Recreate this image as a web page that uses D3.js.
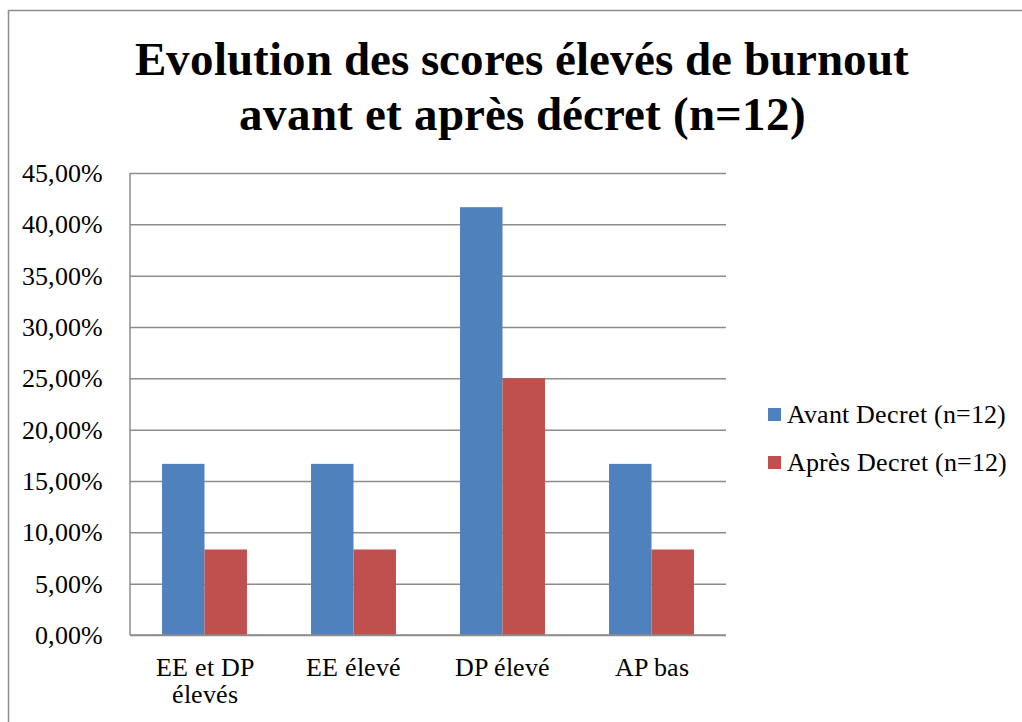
<!DOCTYPE html>
<html>
<head>
<meta charset="utf-8">
<script src="https://cdn.jsdelivr.net/npm/d3@7"></script>
<style>
  html, body { margin: 0; padding: 0; background: #fff; }
  svg { display: block; }
  @font-face { font-family: "ChartSerif"; font-weight: 400; src: local("Liberation Serif"), local("LiberationSerif"), local("Tinos"), local("Times New Roman"); }
  @font-face { font-family: "ChartSerif"; font-weight: 700; src: local("Liberation Serif Bold"), local("LiberationSerif-Bold"), local("Tinos Bold"), local("Times New Roman Bold"); }
</style>
</head>
<body>
<svg id="chart" width="1022" height="722"></svg>
<script>
const categories = [["EE et DP", "élevés"], ["EE élevé"], ["DP élevé"], ["AP bas"]];
const seriesNames = ["Avant Decret (n=12)", "Après Decret (n=12)"];
const avantValues = [16.67, 16.67, 41.67, 16.67];
const apresValues = [8.33, 8.33, 25.0, 8.33];
const yTicks = [0, 5, 10, 15, 20, 25, 30, 35, 40, 45];
const colors = ["#4F81BD", "#C0504D"];
const titleLines = ["Evolution des scores élevés de burnout", "avant et après décret (n=12)"];

const FONT = "'ChartSerif', 'Liberation Serif'";
const svg = d3.select("#chart");
const W = 1022, H = 722;
const plot = { left: 130, right: 726, top: 173, bottom: 635 };

function draw() {
  // outer border (extends beyond right/bottom as in reference)
  svg.append("rect")
    .attr("x", 8.5).attr("y", 10.5)
    .attr("width", W + 20).attr("height", H + 20)
    .attr("fill", "none").attr("stroke", "#8c8c8c").attr("stroke-width", 1.5);

  const x0 = d3.scaleBand().domain(d3.range(categories.length))
    .range([plot.left, plot.right]).paddingInner(0).paddingOuter(0);
  const groupW = x0.bandwidth() * 0.57;
  const x1 = d3.scaleBand().domain([0, 1]).range([0, groupW]).padding(0);
  const y = d3.scaleLinear().domain([0, 45]).range([plot.bottom, plot.top]);

  // gridlines
  const yAxis = d3.axisLeft(y).tickValues(yTicks).tickSize(-(plot.right - plot.left)).tickFormat("");
  const gy = svg.append("g").attr("transform", `translate(${plot.left},0)`).call(yAxis);
  gy.select(".domain").remove();
  gy.selectAll(".tick line").attr("stroke", "#8c8c8c").attr("stroke-width", 1.5);
  gy.selectAll(".tick text").remove();

  // bars
  const data = categories.map((c, i) => [avantValues[i], apresValues[i]]);
  const groups = svg.append("g").selectAll("g").data(data).join("g")
    .attr("transform", (d, i) => `translate(${x0(i) + (x0.bandwidth() - groupW) / 2},0)`);
  groups.selectAll("rect").data(d => d).join("rect")
    .attr("x", (d, j) => x1(j))
    .attr("width", x1.bandwidth())
    .attr("y", d => y(d))
    .attr("height", d => y(0) - y(d))
    .attr("fill", (d, j) => colors[j]);

  // axis lines
  svg.append("line")
    .attr("x1", plot.left).attr("x2", plot.left)
    .attr("y1", plot.top).attr("y2", plot.bottom)
    .attr("stroke", "#8c8c8c").attr("stroke-width", 1.5);
  svg.append("line")
    .attr("x1", plot.left).attr("x2", plot.right)
    .attr("y1", y(0)).attr("y2", y(0))
    .attr("stroke", "#8c8c8c").attr("stroke-width", 1.5);

  // title
  svg.selectAll("text.title").data(titleLines).join("text").attr("class", "title")
    .attr("x", 522).attr("y", (d, i) => 75 + i * 55)
    .attr("text-anchor", "middle")
    .style("font-family", FONT).style("font-weight", "bold").style("font-size", "47px")
    .text(d => d);

  // y tick labels
  svg.selectAll("text.ytick").data(yTicks).join("text").attr("class", "ytick")
    .attr("x", plot.left - 27).attr("y", d => y(d) + 9)
    .attr("text-anchor", "end")
    .style("font-family", FONT).style("font-size", "25.5px")
    .text(d => d.toFixed(2).replace(".", ",") + "%");

  // x labels
  const xItems = [];
  categories.forEach((lines, i) => lines.forEach((t, k) => xItems.push({ t, i, k })));
  svg.selectAll("text.xlab").data(xItems).join("text").attr("class", "xlab")
    .attr("x", d => x0(d.i) + x0.bandwidth() / 2)
    .attr("y", d => 676 + d.k * 27)
    .attr("text-anchor", "middle")
    .style("font-family", FONT).style("font-size", "25.5px")
    .text(d => d.t);

  // legend
  svg.selectAll("rect.leg").data(seriesNames).join("rect").attr("class", "leg")
    .attr("x", 768).attr("y", (d, i) => 408 + i * 48)
    .attr("width", 13).attr("height", 13).attr("fill", (d, i) => colors[i]);
  svg.selectAll("text.leg").data(seriesNames).join("text").attr("class", "leg")
    .attr("x", 787).attr("y", (d, i) => 423 + i * 48)
    .style("font-family", FONT).style("font-size", "25.5px")
    .text(d => d);
}

if (document.fonts && document.fonts.load) {
  Promise.all([
    document.fonts.load("25px ChartSerif"),
    document.fonts.load("bold 47px ChartSerif")
  ]).catch(() => {}).then(draw);
} else {
  draw();
}
</script>
</body>
</html>
